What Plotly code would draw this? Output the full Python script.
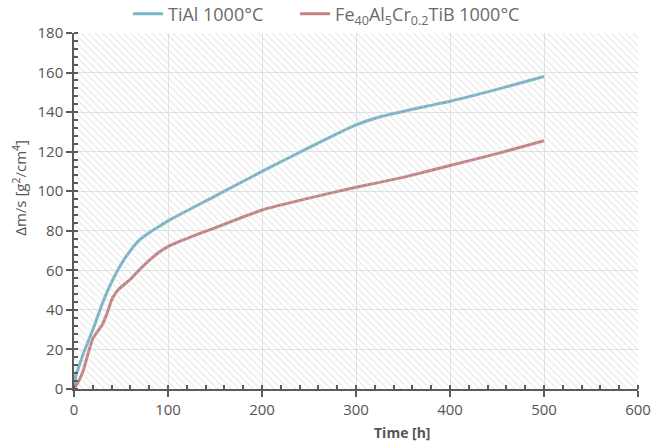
import plotly.graph_objects as go

# TiAl 1000°C
t_tial = [0, 2, 5, 10, 20, 30, 40, 50, 60, 70, 80, 90, 100, 150, 200, 250, 300, 325, 350, 375, 400, 450, 500]
v_tial = [0, 7, 11, 18, 30, 43, 54, 63, 70, 75.5, 79, 82, 85, 97.5, 110, 122, 133.5, 137.5, 140.3, 143, 145.5, 151.5, 158]

# Fe40Al5Cr0.2TiB 1000°C
t_fe = [0, 5, 10, 15, 20, 25, 30, 35, 40, 45, 50, 60, 70, 80, 90, 100, 125, 150, 200, 250, 300, 350, 400, 450, 500]
v_fe = [0, 4, 9.5, 18, 25.5, 29, 32.5, 38, 45, 49, 51.5, 55.5, 60.5, 65, 69, 72, 77, 81.5, 90.5, 96.5, 102, 107, 113, 119, 125.5]

x_ticks = [0, 100, 200, 300, 400, 500, 600]
y_ticks = [0, 20, 40, 60, 80, 100, 120, 140, 160, 180]

names = ["TiAl 1000°C", "Fe<sub>40</sub>Al<sub>5</sub>Cr<sub>0.2</sub>TiB 1000°C"]
colors = ["#7ab4c6", "#c38283"]
x_title = "<b>Time [h]</b>"
y_title = "Δm/s [g<sup>2</sup>/cm<sup>4</sup>]"

fig = go.Figure()

# hatched plot background on an overlay unit axis
fig.add_trace(go.Scatter(
    x=[0, 1, 1, 0, 0], y=[0, 0, 1, 1, 0], xaxis="x2", yaxis="y2",
    mode="none", fill="toself", fillcolor="rgba(0,0,0,0)",
    fillpattern=dict(shape="\\", size=5, solidity=0.2,
                     fgcolor="#c8c8c8", bgcolor="rgba(0,0,0,0)"),
    showlegend=False, hoverinfo="skip"))

fig.add_trace(go.Scatter(x=t_tial, y=v_tial, mode="lines", name=names[0], legend="legend",
                         line=dict(color=colors[0], width=3, shape="spline", smoothing=0.6)))
fig.add_trace(go.Scatter(x=t_fe, y=v_fe, mode="lines", name=names[1], legend="legend2",
                         line=dict(color=colors[1], width=3, shape="spline", smoothing=0.4)))

axis_font = dict(family="Open Sans", size=15, color="#555555")
legend_font = dict(family="Open Sans", size=18, color="#6a6a6a")

fig.update_layout(
    width=653, height=443,
    margin=dict(l=74, r=15, t=33, b=54, autoexpand=False),
    paper_bgcolor="white", plot_bgcolor="white",
    font=dict(family="Open Sans", color="#555555"),
    showlegend=True,
    legend=dict(orientation="h", x=0.0957, xanchor="left", xref="paper",
                y=1.053, yanchor="middle", yref="paper",
                font=legend_font, itemwidth=30, bgcolor="rgba(0,0,0,0)"),
    legend2=dict(orientation="h", x=0.392, xanchor="left", xref="paper",
                 y=1.053, yanchor="middle", yref="paper",
                 font=legend_font, itemwidth=30, bgcolor="rgba(0,0,0,0)"),
    xaxis=dict(range=[0, 600], tickvals=x_ticks, showgrid=True, gridcolor="#e3e3e3", gridwidth=1,
               showline=True, linecolor="#5a5a5a", linewidth=1.5, automargin=False,
               ticks="outside", ticklen=6, tickcolor="#5a5a5a", tickwidth=1.5,
               minor=dict(dtick=20, ticks="inside", ticklen=4, tickcolor="#5a5a5a", showgrid=False),
               tickfont=axis_font, zeroline=False),
    yaxis=dict(range=[0, 180], tickvals=y_ticks, showgrid=True, gridcolor="#e3e3e3", gridwidth=1,
               showline=True, linecolor="#5a5a5a", linewidth=1.5, automargin=False,
               ticks="outside", ticklen=6, tickcolor="#5a5a5a", tickwidth=1.5,
               minor=dict(dtick=4, ticks="inside", ticklen=4, tickcolor="#5a5a5a", showgrid=False),
               tickfont=axis_font, zeroline=False),
    xaxis2=dict(range=[0, 1], overlaying="x", visible=False, fixedrange=True),
    yaxis2=dict(range=[0, 1], overlaying="y", visible=False, fixedrange=True),
    annotations=[
        dict(text=x_title, xref="paper", yref="paper", x=0.583, y=-0.121,
             xanchor="center", yanchor="middle", showarrow=False,
             font=dict(family="Open Sans", size=14, color="#555555")),
        dict(text=y_title, xref="paper", yref="paper", x=-0.096, y=0.565,
             xanchor="center", yanchor="middle", showarrow=False, textangle=-90,
             font=dict(family="Open Sans", size=15, color="#555555")),
    ],
)

fig.write_html("out.html", config={"displayModeBar": False},
               post_script="document.body.style.margin='0';document.body.style.overflow='hidden';")
